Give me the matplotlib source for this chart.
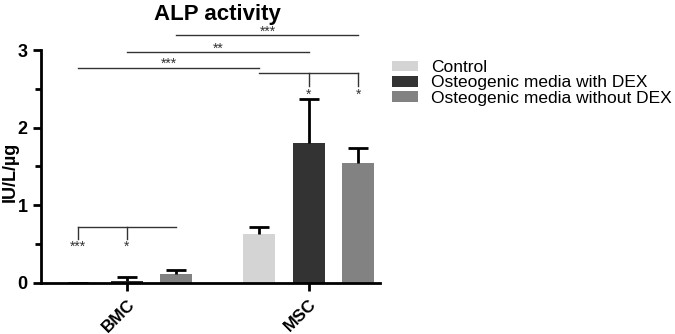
import matplotlib
matplotlib.use("Agg")
import matplotlib.pyplot as plt
import numpy as np
from matplotlib.patches import Patch
from matplotlib.ticker import MultipleLocator

plt.rcParams['font.family'] = ['Liberation Sans', 'DejaVu Sans']

groups = ["BMC", "MSC"]
series = ["Control", "Osteogenic media with DEX", "Osteogenic media without DEX"]
colors = ["#d4d4d4", "#333333", "#828282"]
means = {
    "Control": [0.0, 0.63],
    "Osteogenic media with DEX": [0.02, 1.80],
    "Osteogenic media without DEX": [0.12, 1.54],
}
errs = {
    "Control": [0.0, 0.09],
    "Osteogenic media with DEX": [0.05, 0.57],
    "Osteogenic media without DEX": [0.04, 0.20],
}

fig = plt.figure(figsize=(6.75, 3.34), dpi=100)
ax = fig.add_axes([0.0607, 0.153, 0.502, 0.697])

gpos = np.arange(len(groups))
offset = 0.272
width = 0.176
for i, s in enumerate(series):
    x = gpos + (i - 1) * offset
    ax.bar(x, means[s], width, color=colors[i], zorder=2)
    eb = ax.errorbar(x, means[s], yerr=[np.zeros(len(groups)), errs[s]], fmt='none',
                     ecolor='black', elinewidth=2, capsize=7, capthick=2, zorder=3)
    eb[1][0].set_visible(False)

ax.set_xlim(-0.473, 1.39)
ax.set_ylim(0, 3)
ax.set_xticks(gpos)
ax.set_xticklabels(groups, rotation=45, ha='right', rotation_mode='anchor',
                   fontsize=12.5, fontweight='bold')
ax.yaxis.set_major_locator(MultipleLocator(1))
ax.yaxis.set_minor_locator(MultipleLocator(0.5))
for lab in ax.get_yticklabels():
    lab.set_fontweight('bold')
    lab.set_fontsize(13)
ax.tick_params(axis='both', which='major', width=2, length=6, direction='out')
ax.tick_params(axis='y', which='minor', width=2, length=4)
ax.tick_params(axis='x', pad=4)
for sp in ['top', 'right']:
    ax.spines[sp].set_visible(False)
for sp in ['left', 'bottom']:
    ax.spines[sp].set_linewidth(2)
fig.text(10 / 675, 0.485, "IU/L/µg", rotation=90, ha='center', va='center',
         fontsize=13, fontweight='bold')
fig.text(0.322, 0.958, "ALP activity", ha='center', va='center',
         fontsize=16, fontweight='bold')

lc = '#333333'
lw = 1.0
def hline(x0, x1, y):
    ax.plot([x0, x1], [y, y], color=lc, lw=lw, clip_on=False)
def vline(x, y0, y1):
    ax.plot([x, x], [y0, y1], color=lc, lw=lw, clip_on=False)
def star(x, y, t):
    ax.text(x, y, t, ha='center', va='center', fontsize=10, color=lc, clip_on=False)

# top comparisons
hline(gpos[0] + offset, gpos[1] + offset, 3.19)
star((gpos[0] + offset + gpos[1] + offset) / 2, 3.24, "***")
hline(gpos[0], gpos[1], 2.97)
star(0.5, 3.02, "**")
hline(gpos[0] - offset, gpos[1] - offset, 2.77)
star((gpos[0] - offset + gpos[1] - offset) / 2, 2.82, "***")
# MSC bracket
hline(gpos[1] - offset, gpos[1] + offset, 2.70)
vline(gpos[1], 2.54, 2.70)
vline(gpos[1] + offset, 2.54, 2.70)
star(gpos[1], 2.43, "*")
star(gpos[1] + offset, 2.43, "*")
# BMC bracket
hline(gpos[0] - offset, gpos[0] + offset, 0.72)
vline(gpos[0] - offset, 0.56, 0.72)
vline(gpos[0], 0.56, 0.72)
star(gpos[0] - offset, 0.46, "***")
star(gpos[0], 0.46, "*")

handles = [Patch(facecolor=c, edgecolor='none') for c in colors]
fig.legend(handles, series, loc='upper left', bbox_to_anchor=(0.580, 0.82),
           frameon=False, fontsize=12.5, handlelength=1.5, handleheight=0.55,
           labelspacing=0.02, handletextpad=0.8, borderaxespad=0, borderpad=0)

fig.savefig("out.png", dpi=100)
